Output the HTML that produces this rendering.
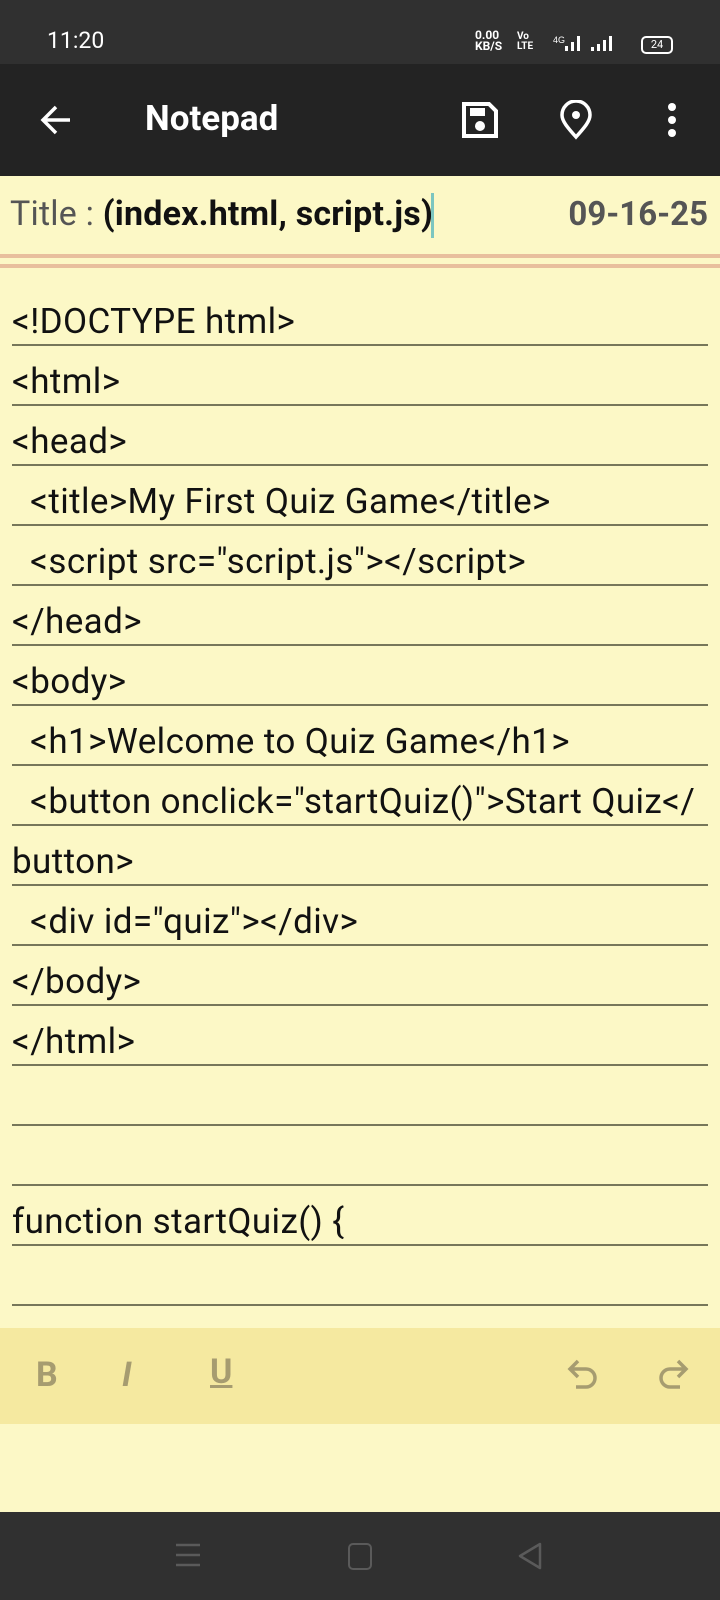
<!DOCTYPE html>
<html><head><style>
body{margin:0;width:720px;height:1600px;background:#fcf8c6;position:relative;overflow:hidden;font-family:"Roboto","Liberation Sans",sans-serif}
.a{position:absolute}
.ln{position:absolute;left:12px;width:696px;height:2px;background:#77775a}
.t{position:absolute;left:12px;font-size:35px;color:#111;white-space:pre;letter-spacing:0.4px;line-height:40px}
</style></head><body>
<div class="a" style="left:0;top:0;width:720px;height:64px;background:#303030"></div>
<div class="a" style="left:47px;top:27px;color:#fff;font-size:23px">11:20</div>
<div class="a" style="left:475px;top:30px;color:#fff;font-size:12px;font-weight:bold;line-height:11px">0.00<br>KB/S</div>
<div class="a" style="left:517px;top:32px;color:#fff;font-size:10px;font-weight:bold;line-height:10px">Vo<br>LTE</div>
<svg class="a" style="left:553px;top:34px" width="80" height="20"><text x="0" y="9" font-size="9" fill="#fff" font-family="Liberation Sans">4G</text><rect x="12" y="12" width="3" height="5" fill="#fff"/><rect x="18" y="8" width="3" height="9" fill="#fff"/><rect x="24" y="2" width="3" height="15" fill="#fff"/><rect x="38" y="13" width="3" height="4" fill="#fff"/><rect x="44" y="10" width="3" height="7" fill="#fff"/><rect x="50" y="6" width="3" height="11" fill="#fff"/><rect x="56" y="2" width="3" height="15" fill="#fff"/></svg>
<div class="a" style="left:641px;top:36px;width:28px;height:14px;border:2px solid #fff;border-radius:5px;color:#fff;font-size:11px;text-align:center;line-height:14px">24</div>
<div class="a" style="left:0;top:64px;width:720px;height:112px;background:#232323"></div>
<svg class="a" style="left:38px;top:102px" width="36" height="36"><path d="M32 18H6M18 5L5 18L18 31" stroke="#fff" stroke-width="3.5" fill="none"/></svg>
<div class="a" style="left:145px;top:98px;color:#fff;font-size:35px;font-weight:bold">Notepad</div>
<svg class="a" style="left:461px;top:101px" width="38" height="38"><path d="M3 3H28L35 10V35H3Z" fill="none" stroke="#fff" stroke-width="4"/><rect x="9" y="7" width="15" height="8" fill="#fff"/><circle cx="19" cy="25" r="5" fill="#fff"/></svg>
<svg class="a" style="left:558px;top:100px" width="36" height="40"><path d="M18 37C9 27 4 21 4 15A14 14 0 0 1 32 15C32 21 27 27 18 37Z" fill="none" stroke="#fff" stroke-width="3.5"/><circle cx="18" cy="15" r="4" fill="#fff"/></svg>
<svg class="a" style="left:664px;top:102px" width="16" height="36"><circle cx="8" cy="5" r="4" fill="#fff"/><circle cx="8" cy="18" r="4" fill="#fff"/><circle cx="8" cy="31" r="4" fill="#fff"/></svg>
<div class="a" style="left:10px;top:194px;font-size:34px;color:#555;white-space:pre;letter-spacing:0.2px">Title : <b style="color:#111">(index.html, script.js)</b></div>
<div class="a" style="left:431px;top:193px;width:3px;height:45px;background:#7cc6c0"></div>
<div class="a" style="right:12px;top:195px;font-size:33px;color:#555;font-weight:bold">09-16-25</div>
<div class="a" style="left:0;top:254px;width:720px;height:4px;background:#e8bf9d"></div>
<div class="a" style="left:0;top:264px;width:720px;height:4px;background:#e8bf9d"></div>
<div class="t" style="top:302px">&lt;!DOCTYPE html&gt;</div><div class="ln" style="top:344px"></div>
<div class="t" style="top:362px">&lt;html&gt;</div><div class="ln" style="top:404px"></div>
<div class="t" style="top:422px">&lt;head&gt;</div><div class="ln" style="top:464px"></div>
<div class="t" style="top:482px">  &lt;title&gt;My First Quiz Game&lt;/title&gt;</div><div class="ln" style="top:524px"></div>
<div class="t" style="top:542px">  &lt;script src="script.js"&gt;&lt;/script&gt;</div><div class="ln" style="top:584px"></div>
<div class="t" style="top:602px">&lt;/head&gt;</div><div class="ln" style="top:644px"></div>
<div class="t" style="top:662px">&lt;body&gt;</div><div class="ln" style="top:704px"></div>
<div class="t" style="top:722px">  &lt;h1&gt;Welcome to Quiz Game&lt;/h1&gt;</div><div class="ln" style="top:764px"></div>
<div class="t" style="top:782px">  &lt;button onclick="startQuiz()"&gt;Start Quiz&lt;/</div><div class="ln" style="top:824px"></div>
<div class="t" style="top:842px">button&gt;</div><div class="ln" style="top:884px"></div>
<div class="t" style="top:902px">  &lt;div id="quiz"&gt;&lt;/div&gt;</div><div class="ln" style="top:944px"></div>
<div class="t" style="top:962px">&lt;/body&gt;</div><div class="ln" style="top:1004px"></div>
<div class="t" style="top:1022px">&lt;/html&gt;</div><div class="ln" style="top:1064px"></div>
<div class="ln" style="top:1124px"></div>
<div class="ln" style="top:1184px"></div>
<div class="t" style="top:1202px">function startQuiz() {</div><div class="ln" style="top:1244px"></div>
<div class="ln" style="top:1304px"></div>
<div class="a" style="left:0;top:1328px;width:720px;height:96px;background:#f5e9a0"></div>
<div class="a" style="left:36px;top:1355px;font-size:34px;font-weight:bold;color:#a69c70">B</div>
<div class="a" style="left:122px;top:1355px;font-size:34px;font-weight:bold;font-style:italic;color:#a69c70">I</div>
<div class="a" style="left:210px;top:1352px;font-size:34px;font-weight:bold;color:#a69c70;text-decoration:underline">U</div>
<svg class="a" style="left:566px;top:1358px" width="36" height="34"><path d="M12 3L4 11L12 19M4 11H20A9 9 0 0 1 20 29H10" fill="none" stroke="#a69c70" stroke-width="3.5"/></svg>
<svg class="a" style="left:654px;top:1358px" width="36" height="34"><path d="M24 3L32 11L24 19M32 11H16A9 9 0 0 0 16 29H26" fill="none" stroke="#a69c70" stroke-width="3.5"/></svg>
<div class="a" style="left:0;top:1512px;width:720px;height:88px;background:#303030"></div>
<svg class="a" style="left:175px;top:1543px" width="26" height="24"><path d="M1 2H25M1 12H25M1 22H25" stroke="#5a5a5a" stroke-width="2.5"/></svg>
<div class="a" style="left:348px;top:1543px;width:20px;height:23px;border:2.5px solid #5a5a5a;border-radius:5px"></div>
<svg class="a" style="left:516px;top:1541px" width="28" height="30"><path d="M24 3L4 15L24 27Z" fill="none" stroke="#5a5a5a" stroke-width="2.5" stroke-linejoin="round"/></svg>
</body></html>
